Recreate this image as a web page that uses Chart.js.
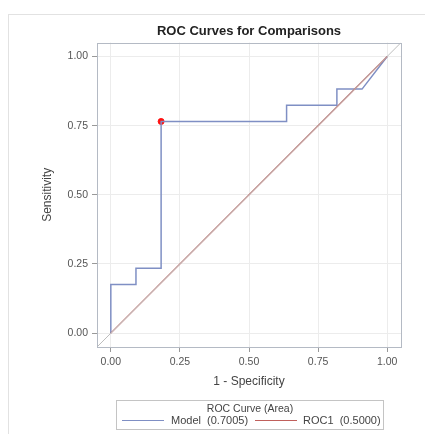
<!DOCTYPE html>
<html lang="en">
<head>
    <meta charset="UTF-8">
    <title>ROC Curves for Comparisons</title>
    <script src="https://cdn.jsdelivr.net/npm/chart.js"></script>
    <style>
        body {
            margin: 0;
            background: #ffffff;
            font-family: "Liberation Sans", Arial, sans-serif;
        }
        #wrap {
            position: relative;
            width: 425px;
            height: 434px;
        }
        #frame {
            position: absolute;
            left: 8px;
            top: 14px;
            right: 0;
            bottom: 0;
            border-top: 1px solid #e2e2e2;
            border-left: 1px solid #e2e2e2;
        }
        #myChart {
            position: absolute;
            left: 0;
            top: 0;
        }
        #legend {
            position: absolute;
            left: 116px;
            top: 400px;
            width: 266px;
            height: 28px;
            border: 1px solid #c4c4c4;
            font-size: 11px;
            color: #444;
        }
        #legend div, #legend span {
            position: absolute;
            white-space: nowrap;
            line-height: 13px;
        }
        #legend .ltitle {
            left: 0;
            width: 266px;
            top: 1px;
            text-align: center;
            font-size: 10.5px;
        }
        #legend .swatch {
            top: 19px;
            width: 42px;
            height: 0;
        }
        #legend .label {
            top: 13px;
        }
    </style>
</head>
<body>
<div id="wrap">
    <div id="frame"></div>
    <canvas id="myChart" width="425" height="434"></canvas>
    <div id="legend"></div>
</div>

<script>
    // ROC data
    const modelFpr = [0, 0, 0.091, 0.091, 0.182, 0.182, 0.636, 0.636, 0.818, 0.818, 0.909, 1];
    const modelTpr = [0, 0.176, 0.176, 0.235, 0.235, 0.765, 0.765, 0.824, 0.824, 0.882, 0.882, 1];
    const roc1Fpr = [0, 1];
    const roc1Tpr = [0, 1];
    const refLine = [-0.05, 1.05];
    const cutoffPoint = [0.182, 0.765];

    const tickValues = [0, 0.25, 0.5, 0.75, 1];
    const legendTitle = 'ROC Curve (Area)';
    const seriesNames = ['Model', 'ROC1'];
    const seriesAreas = ['0.7005', '0.5000'];
    const seriesColors = ['#7f8fc4', '#c0605c'];

    const toPoints = (xs, ys) => xs.map((x, i) => ({x: x, y: ys[i]}));

    // border round the plot area
    const plotBorder = {
        id: 'plotBorder',
        afterDraw(chart) {
            const a = chart.chartArea;
            const ctx = chart.ctx;
            ctx.save();
            ctx.strokeStyle = '#b4bac4';
            ctx.lineWidth = 1;
            ctx.strokeRect(Math.round(a.left) + 0.5, Math.round(a.top) + 0.5,
                Math.round(a.right - a.left), Math.round(a.bottom - a.top));
            ctx.restore();
        }
    };

    const axisCommon = {
        type: 'linear',
        min: -0.05,
        max: 1.05,
        afterBuildTicks: (scale) => {
            scale.ticks = tickValues.map(v => ({value: v}));
        },
        grid: {
            color: '#ececec',
            tickColor: '#999',
            tickLength: 5,
            drawTicks: true
        },
        border: {display: false},
        ticks: {
            color: '#555',
            font: {size: 10.5},
            padding: 4,
            callback: (v) => Number(v).toFixed(2)
        }
    };

    const ctx = document.getElementById('myChart').getContext('2d');
    Chart.defaults.font.family = '"Liberation Sans", Arial, sans-serif';

    new Chart(ctx, {
        type: 'scatter',
        data: {
            datasets: [
                {
                    label: 'ref',
                    data: toPoints(refLine, refLine),
                    showLine: true,
                    borderColor: '#bdbdbd',
                    borderWidth: 1,
                    pointRadius: 0
                },
                {
                    label: seriesNames[1],
                    data: toPoints(roc1Fpr, roc1Tpr),
                    showLine: true,
                    borderColor: seriesColors[1],
                    borderWidth: 1.3,
                    pointRadius: 0
                },
                {
                    label: seriesNames[0],
                    data: toPoints(modelFpr, modelTpr),
                    showLine: true,
                    borderColor: seriesColors[0],
                    borderWidth: 1.5,
                    pointRadius: 0
                },
                {
                    label: 'cutoff',
                    data: [{x: cutoffPoint[0], y: cutoffPoint[1]}],
                    backgroundColor: '#ff1010',
                    borderColor: '#ff1010',
                    pointRadius: 3
                }
            ]
        },
        options: {
            responsive: false,
            animation: false,
            layout: {
                padding: {left: 0, right: 24, top: 0, bottom: 42}
            },
            plugins: {
                legend: {display: false},
                tooltip: {enabled: false},
                title: {
                    display: true,
                    fullSize: false,
                    text: 'ROC Curves for Comparisons',
                    color: '#222',
                    font: {size: 13, weight: 'bold'},
                    padding: {top: 24, bottom: 3}
                }
            },
            scales: {
                x: Object.assign({}, axisCommon, {
                    position: 'bottom',
                    afterFit: (scale) => { scale.height = 45; },
                    title: {
                        display: true,
                        text: '1 - Specificity',
                        color: '#444',
                        font: {size: 12},
                        padding: {top: 0, bottom: 3}
                    }
                }),
                y: Object.assign({}, axisCommon, {
                    position: 'left',
                    afterFit: (scale) => { scale.width = 97; },
                    title: {
                        display: true,
                        text: 'Sensitivity',
                        color: '#444',
                        font: {size: 12},
                        padding: {top: 40, bottom: 0}
                    }
                })
            }
        },
        plugins: [plotBorder]
    });

    // legend box below the plot
    const swatchLeft = [5, 138];
    const labelLeft = [54, 186];
    let html = '<div class="ltitle">' + legendTitle + '</div>';
    seriesNames.forEach((name, i) => {
        html += '<span class="swatch" style="left:' + swatchLeft[i] + 'px;border-top:1px solid ' + seriesColors[i] + '"></span>';
        html += '<span class="label" style="left:' + labelLeft[i] + 'px">' + name + '&nbsp; (' + seriesAreas[i] + ')</span>';
    });
    document.getElementById('legend').innerHTML = html;
</script>
</body>
</html>
